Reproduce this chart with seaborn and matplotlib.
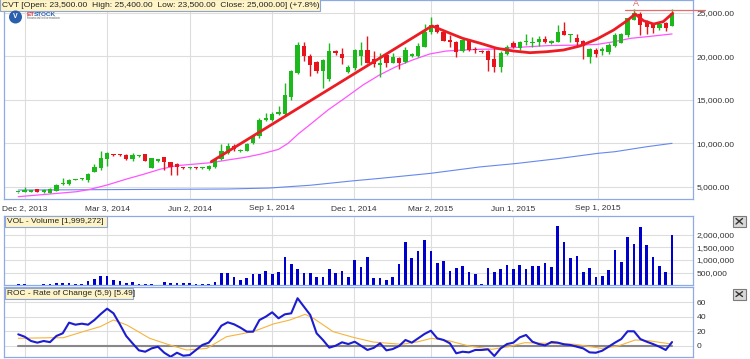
import numpy as np
import pandas as pd
import matplotlib
matplotlib.use("Agg")
import matplotlib.pyplot as plt
import seaborn as sns
from matplotlib.patches import Rectangle, Ellipse
from matplotlib.lines import Line2D

sns.set_style("white")
plt.rcParams['font.family'] = ['Liberation Sans', 'DejaVu Sans']

# ---------------- data (weekly bars, index 0..103) ----------------
opens = [4400, 4460, 4460, 4730, 4390, 4340, 4580, 5300, 5300, 5850,
         5900, 5800, 6760, 7140, 8170, 8700, 8650, 8670, 8250, 8560,
         8750, 7220, 8020, 8400, 7830, 7600, 7180, 7150, 7170, 7150,
         7030, 7260, 8180, 8870, 9700, 9170, 9170, 10010, 10800, 12690,
         12690, 13350, 13350, 15360, 18050, 21200, 20070, 19300, 18300, 17390,
         20600, 20250, 18230, 18620, 20030, 20720, 19650, 19050, 20150, 19260,
         19800, 19300, 20050, 20030, 21100, 22750, 23590, 22800, 21870, 21680,
         20570, 21790, 20750, 20600, 20600, 19650, 18800, 20260, 21480, 20910,
         21600, 21480, 21670, 21940, 21560, 21670, 22940, 22480, 22060, 21750,
         19950, 20720, 20600, 20530, 21180, 21560, 22440, 24200, 24850, 23970,
         23700, 23200, 23770, 23500]
closes = [4420, 4650, 4650, 4390, 4690, 4800, 5230, 5500, 5800, 5880,
          5950, 6490, 7250, 8290, 8860, 8670, 8640, 8170, 8630, 8570,
          8020, 8290, 8170, 7830, 7260, 7260, 7150, 7170, 7150, 7200,
          7440, 8180, 9130, 9700, 9330, 9200, 9880, 10850, 12690, 12920,
          13420, 13550, 15560, 18310, 21290, 20070, 19000, 18300, 19560, 20600,
          20370, 19850, 18800, 20720, 20720, 19260, 19110, 19250, 19260, 19900,
          19260, 20720, 20250, 21180, 22820, 23590, 22760, 21790, 21600, 20450,
          21870, 20720, 20700, 20450, 19570, 18800, 20340, 21060, 21100, 21670,
          21750, 21670, 21940, 21600, 21790, 22820, 22440, 22560, 21670, 21180,
          20800, 20230, 20800, 21250, 22440, 22520, 24350, 25000, 23590, 23390,
          23200, 23700, 23200, 25000]
highs = [4450, 5000, 4700, 4750, 4730, 4850, 5300, 6000, 5900, 5950,
         6000, 6640, 7640, 9130, 9050, 8800, 8750, 8750, 8860, 8650,
         8800, 8330, 8250, 8480, 7900, 7700, 7250, 7250, 7300, 7250,
         7500, 8250, 9930, 10000, 9950, 9330, 10080, 11000, 12880, 13520,
         13600, 14300, 16900, 18450, 21670, 21670, 20250, 19500, 19700, 21500,
         20720, 20900, 19000, 20800, 21670, 22330, 20640, 20400, 20340, 20340,
         19950, 21100, 20400, 21560, 23700, 24540, 23700, 22900, 22440, 21800,
         22000, 21900, 21100, 20700, 20700, 20910, 20640, 21300, 21700, 21700,
         22560, 22250, 22330, 22330, 21900, 23590, 23970, 22600, 22500, 21900,
         20900, 20900, 21030, 21480, 22640, 22640, 24350, 25400, 25120, 24160,
         23850, 23800, 23970, 25400]
lows = [4350, 4400, 4420, 4380, 4350, 4300, 4550, 5250, 5250, 5800,
        5850, 5610, 6680, 6950, 7410, 8550, 8550, 8100, 8020, 8450,
        8000, 7200, 7900, 6950, 6380, 6380, 7100, 7100, 7100, 7100,
        7000, 7200, 8100, 8800, 9100, 9000, 9100, 9900, 10650, 12600,
        12600, 13300, 13300, 15000, 17950, 19490, 17740, 18050, 16390, 17200,
        20150, 19100, 18100, 18390, 19000, 19190, 18800, 17590, 18800, 19200,
        18540, 19260, 19900, 19950, 21100, 22600, 22650, 21700, 21100, 19950,
        20450, 20600, 20340, 20350, 18310, 18230, 18230, 20150, 20950, 20720,
        21290, 21100, 21180, 21490, 21400, 21600, 22400, 21670, 21180, 19650,
        19190, 19880, 20150, 20260, 21030, 21490, 22250, 24200, 22440, 22560,
        22630, 23000, 22940, 23500]
volume_m = [0.05, 0.05, 0.02, 0.03, 0.05, 0.07, 0.09, 0.09, 0.09, 0.05,
            0.05, 0.16, 0.25, 0.37, 0.37, 0.21, 0.18, 0.10, 0.14, 0.05,
            0.05, 0.05, 0.02, 0.13, 0.10, 0.10, 0.08, 0.08, 0.05, 0.05,
            0.05, 0.13, 0.47, 0.50, 0.35, 0.21, 0.29, 0.46, 0.46, 0.56,
            0.46, 0.52, 1.12, 0.84, 0.63, 0.47, 0.47, 0.35, 0.35, 0.66,
            0.47, 0.56, 0.35, 1.01, 0.73, 1.12, 0.31, 0.28, 0.21, 0.34,
            0.83, 1.69, 1.06, 1.35, 1.80, 1.35, 0.89, 0.96, 0.56, 0.67,
            0.77, 0.52, 0.43, 0.05, 0.68, 0.52, 0.64, 0.80, 0.63, 0.80,
            0.66, 0.75, 0.77, 0.89, 0.72, 2.35, 1.69, 1.06, 1.14, 0.52,
            0.68, 0.35, 0.38, 0.59, 1.40, 0.93, 1.89, 1.61, 2.30, 1.59,
            1.12, 0.77, 0.52, 2.00]
roc = [15.7, 12.4, 6.5, 4.2, 6.5, 4.9, 13.4, 17.1, 31.8, 29.0,
       30.4, 29.0, 35.5, 43.8, 51.1, 44.7, 29.5, 13.4, 3.3, -6.4,
       -8.3, -3.7, -1.4, -9.7, -15.2, -9.7, -13.8, -12.9, -5.9, 1.0,
       4.2, 14.8, 27.6, 32.3, 29.5, 24.9, 19.4, 19.4, 35.5, 40.1,
       46.1, 37.8, 43.3, 44.7, 65.5, 53.9, 42.4, 17.1, 7.9, -2.7,
       0.0, 4.7, 2.3, 5.5, 0.0, -5.9, -3.0, 3.3, -6.4, -4.6,
       -0.4, 7.9, 4.2, 10.2, 16.2, 20.7, 10.2, 7.9, 3.3, -10.5,
       -8.3, -9.2, -5.9, -5.9, -5.0, -14.2, -3.7, 2.3, 4.2, 11.5,
       14.8, 5.5, 2.3, 0.5, 5.1, 4.2, 1.9, 1.0, -1.4, -3.7,
       -9.2, -9.7, -6.9, -1.4, 4.2, 9.2, 19.9, 19.9, 9.2, 5.5,
       2.3, -1.4, -5.9, 5.0]
sig_x = [0, 5, 7.1, 10.2, 12.9, 15, 17.1, 20.7, 23.4, 26.5, 29.7, 32.8, 37,
         40.2, 42.8, 45.2, 46.5, 49.6, 52.8, 55.9, 60.4, 63, 65.1, 67.8, 71,
         74.6, 77.2, 79.8, 83.5, 87.7, 91.9, 94.5, 97.2, 99.3, 102.9]
sig_y = [10.2, 11.0, 11.0, 19.4, 26.3, 35.5, 28.6, 10.2, 2.3, -5.9, -3.7, 12.4, 19.4,
         30.0, 35.5, 43.3, 37.8, 19.4, 11.5, 5.1, 1.9, 5.5, 10.2, 6.9, -0.4,
         -5.0, -1.4, 4.2, 3.3, 1.9, -3.7, -0.4, 7.9, 6.9, 2.3]
ma_mid_x = [0, 5.0, 9.2, 11.3, 14.0, 17.1, 19.7, 22.3, 25.0, 30.4, 33.0, 35.7, 38.3,
            41.0, 42.5, 44.1, 46.2, 48.8, 51.4, 54.3, 56.9, 59.5, 62.1, 64.8, 67.4,
            70.0, 72.6, 75.3, 77.9, 83.4, 88.6, 91.3, 93.9, 96.5, 99.1, 103]
ma_mid_y = [3890, 4195, 4460, 4730, 5230, 5920, 6450, 7030, 7450, 7790, 8100, 8400, 8790,
            9320, 10010, 11080, 12300, 13840, 15170, 16700, 17850, 18800, 19570, 20260, 20600,
            20720, 20800, 20830, 20990, 21220, 21290, 21370, 21680, 22060, 22250, 22560]
ma_long_x = [0, 20, 33, 39.5, 46, 52.5, 57, 65, 72.7, 78.5, 85, 91.3, 94, 99, 103]
ma_long_y = [4650, 4720, 4770, 4880, 5200, 5690, 5990, 6570, 7300, 7700, 8250, 8860, 9050, 9620, 10010]
trend_x = [30.4, 65.0]
trend_y = [7900, 23400]
cup_x = [65.2, 67.4, 70.0, 72.8, 75.4, 78.0, 80.6, 83.3, 85.9, 88.5, 91.1, 93.8, 95.9, 97.2,
         98.5, 100.1, 101.6, 103.1]
cup_y = [23474, 22820, 22060, 21490, 20915, 20605, 20410, 20525, 20720, 21180, 21950, 23015,
         24080, 24850, 24080, 23700, 23970, 24930]
resist_x = [95.6, 108.2]
resist_y = [25344, 25344]
date_pos = [1.0, 14.0, 27.0, 39.9, 52.9, 65.0, 78.0, 91.3]
date_labels = ["Dec 2, 2013", "Mar 3, 2014", "Jun 2, 2014", "Sep 1, 2014",
               "Dec 1, 2014", "Mar 2, 2015", "Jun 1, 2015", "Sep 1, 2015"]
price_ticks = [5000, 10000, 15000, 20000, 25000]
vol_ticks = [500000, 1000000, 1500000, 2000000]
roc_ticks = [0, 20, 40, 60]

# ---------------- figure ----------------
W, H = 750, 359
fig = plt.figure(figsize=(W / 100, H / 100), dpi=100)
fig.patch.set_facecolor("white")

def rect(l, t, r, b):
    return [l / W, 1 - b / H, (r - l) / W, (b - t) / H]

ax = fig.add_axes(rect(4, 0, 693, 199))
axv = fig.add_axes(rect(4, 216, 693, 285.4))
axr = fig.add_axes(rect(4, 287, 693, 357.3))

SPINE = "#8eaae4"
GRID = "#dddddd"
TXT = "#333333"
XL = (-2.25, 106.3)
n = len(closes)
idx = np.arange(n)

for a in (ax, axv, axr):
    a.set_facecolor("white")
    for s in a.spines.values():
        s.set_color(SPINE)
        s.set_linewidth(0.9)
    a.set_xlim(*XL)
    a.set_xticks(date_pos)
    a.yaxis.tick_right()
    a.grid(True, color=GRID, lw=0.8)
    a.set_axisbelow(True)
    a.tick_params(axis="both", length=0, labelsize=6.1, colors=TXT, pad=2.5)

# ---- main price panel ----
sns.lineplot(x=ma_long_x, y=ma_long_y, ax=ax, color="#6688ee", lw=0.8, zorder=2)
sns.lineplot(x=ma_mid_x, y=ma_mid_y, ax=ax, color="#ff55ff", lw=0.9, zorder=2)

GREEN = "#1cb81c"
RED = "#e8131b"
o = np.array(opens); c = np.array(closes); h = np.array(highs); l = np.array(lows)
cols = [GREEN if cc >= oo else RED for oo, cc in zip(o, c)]
ax.vlines(idx, l, h, colors=cols, lw=1.0, zorder=3)
body_bottom = np.minimum(o, c)
body_h = np.maximum(np.abs(c - o), 100)
ax.bar(idx, body_h, bottom=body_bottom, width=0.68, color=cols, zorder=4, linewidth=0)

ax.plot(trend_x, trend_y, color="#ec1c24", lw=2.0, solid_capstyle="round", zorder=5)
ax.plot(cup_x, cup_y, color="#ec1c24", lw=2.0, solid_capstyle="round", zorder=5)
ax.plot(resist_x, resist_y, color="#e86a6a", lw=0.9, zorder=5, clip_on=False)
ax.text(97.3, 26000, "A", color="#e06a6a", fontsize=6.5, ha="center", va="center", zorder=6)

ax.set_ylim(3622, 26457)
ax.set_yticks(price_ticks)
ax.set_yticklabels([f"{v:,.2f}" for v in price_ticks])
ax.set_xticklabels(date_labels, fontsize=6.0)
ax.tick_params(axis="x", pad=4)
ax.set_xlabel(""); ax.set_ylabel("")

# ---- volume panel ----
vol = np.array(volume_m) * 1e6
dfv = pd.DataFrame({"week": idx, "volume": vol})
sns.barplot(data=dfv, x="week", y="volume", ax=axv, native_scale=True, width=0.42,
            color="#0000cc", saturation=1, errorbar=None, linewidth=0)
axv.set_xlim(*XL)
axv.set_xticks(date_pos)
axv.tick_params(axis="x", labelbottom=False)
axv.set_ylim(0, 2.73e6)
axv.set_yticks(vol_ticks)
axv.set_yticklabels([f"{v:,.0f}" for v in vol_ticks])
axv.set_xlabel(""); axv.set_ylabel("")

# ---- ROC panel ----
axr.plot([0, n - 1], [0, 0], color="#888888", lw=1.5, zorder=2)
sns.lineplot(x=sig_x, y=sig_y, ax=axr, color="#f6b43c", lw=0.8, zorder=3)
sns.lineplot(x=idx, y=roc, ax=axr, color="#1c1cd0", lw=1.5, zorder=4)
axr.set_xlim(*XL)
axr.set_xticks(date_pos)
axr.tick_params(axis="x", labelbottom=False)
axr.set_ylim(-16, 81)
axr.set_yticks(roc_ticks)
axr.set_yticklabels([str(v) for v in roc_ticks])
axr.set_xlabel(""); axr.set_ylabel("")

# ---------------- label boxes / decorations ----------------
def fbox(x0, y0, x1, y1, fc, ec, z=10, lw=0.8):
    r = Rectangle((x0 / W, 1 - y1 / H), (x1 - x0) / W, (y1 - y0) / H,
                  transform=fig.transFigure, facecolor=fc, edgecolor=ec, lw=lw, zorder=z)
    fig.add_artist(r)

def ftext(x, y, s, **kw):
    fig.text(x / W, 1 - y / H, s, zorder=11, **kw)

fbox(0, -1, 320, 10.5, "#fff4c6", "#8ea6d6")
ftext(2.5, 5.2, "CVT [Open: 23,500.00  High: 25,400.00  Low: 23,500.00  Close: 25,000.00] (+7.8%)",
      fontsize=6.1, color="#222222", va="center", ha="left")
fbox(4.5, 216, 106.5, 226.5, "#fff4c6", "#8ea6d6")
ftext(7, 221.4, "VOL - Volume [1,999,272]", fontsize=6.0, color="#222222", va="center", ha="left")
fbox(4.5, 287.7, 133.3, 298.8, "#fff4c6", "#8ea6d6")
ftext(7, 293.3, "ROC - Rate of Change (5,9) [5.49]", fontsize=6.0, color="#222222", va="center", ha="left")

# close icons
for (yt, yb) in [(215.5, 227), (288.7, 299.5)]:
    fbox(733, yt, 745.5, yb, "#d8d8d8", "#7a7a7a", lw=0.8)
    for (xa, ya, xb, yb2) in [(736, yt + 3, 742.5, yb - 3), (736, yb - 3, 742.5, yt + 3)]:
        fig.add_artist(Line2D([xa / W, xb / W], [1 - ya / H, 1 - yb2 / H],
                              transform=fig.transFigure, color="#333333", lw=1.0, zorder=12))

# logo
fig.add_artist(Ellipse((15.5 / W, 1 - 17 / H), 13 / W, 13 / H, transform=fig.transFigure,
                       facecolor="#2a5fae", edgecolor="none", zorder=11))
ftext(15.5, 17, "V", fontsize=5, color="white", fontweight="bold", ha="center", va="center")
ftext(26.5, 14.3, "ET", fontsize=4.6, color="#d23a4a", fontweight="bold", ha="left", va="center")
ftext(33.5, 14.3, "STOCK", fontsize=4.6, color="#2a5fae", fontweight="bold", ha="left", va="center")
ftext(27, 18.3, "financial information", fontsize=2.6, color="#666666", ha="left", va="center")

fig.savefig("out.png", dpi=100, facecolor="white")
